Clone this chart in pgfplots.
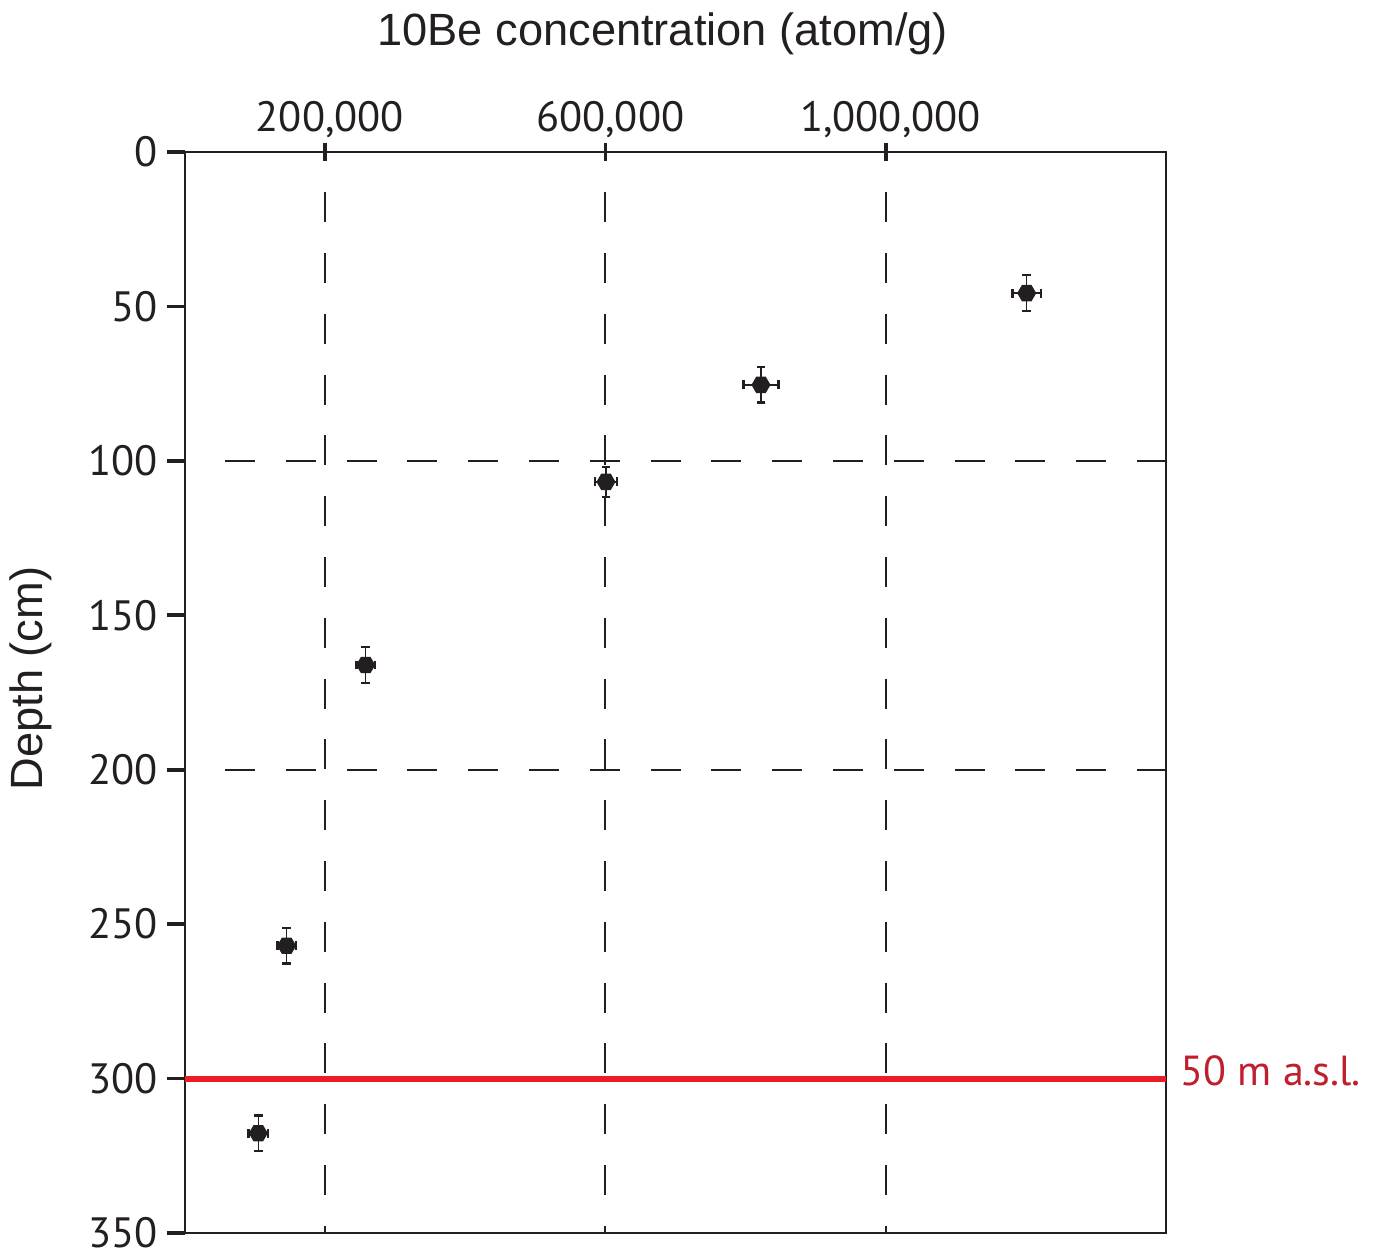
\documentclass[border=0pt]{standalone}
\usepackage{fontspec}
\setmainfont{PT Sans}
\newfontfamily\arialf{Liberation Sans}
\usepackage{pgfplots}
\pgfplotsset{compat=1.18}
\definecolor{ink}{RGB}{35,31,32}
\definecolor{redline}{RGB}{237,28,36}
\definecolor{redtext}{RGB}{190,30,45}

% hexagon with points to left and right
\pgfdeclareplotmark{hexagon*}{%
  \pgfpathmoveto{\pgfpointpolar{0}{\pgfplotmarksize}}%
  \pgfpathlineto{\pgfpointpolar{60}{\pgfplotmarksize}}%
  \pgfpathlineto{\pgfpointpolar{120}{\pgfplotmarksize}}%
  \pgfpathlineto{\pgfpointpolar{180}{\pgfplotmarksize}}%
  \pgfpathlineto{\pgfpointpolar{240}{\pgfplotmarksize}}%
  \pgfpathlineto{\pgfpointpolar{300}{\pgfplotmarksize}}%
  \pgfpathclose
  \pgfusepathqfillstroke}

\begin{document}
\begin{tikzpicture}
\begin{axis}[
  name=ax,
  width=245.25pt, height=270.25pt, scale only axis,
  xmin=0, xmax=1400000, ymin=0, ymax=350,
  y dir=reverse,
  clip=false,
  axis line style={ink, line width=0.6pt},
  xtick={200000,600000,1000000},
  xticklabels={{200,000},{600,000},{1,000,000}},
  xtick pos=right, xticklabel pos=right,
  ytick={0,50,...,350}, ytick pos=left,
  tick align=outside, major tick length=4.5pt,
  tick style={ink, line width=0.9pt},
  every major x tick/.append style={yshift=-2.25pt},
  /pgf/number format/assume math mode=true,
  tick label style={font=\fontsize{10.6}{12}\selectfont, text=ink},
  xticklabel style={yshift=-4.6pt, xshift=1.2pt},
  yticklabel style={xshift=1.25pt},
  scaled x ticks=false,
]
% grid lines
\addplot[ink, line width=0.5pt, dash pattern=on 7.5pt off 7.7pt] coordinates {(200000,13) (200000,350)};
\addplot[ink, line width=0.5pt, dash pattern=on 7.5pt off 7.7pt] coordinates {(600000,13) (600000,350)};
\addplot[ink, line width=0.5pt, dash pattern=on 7.5pt off 7.7pt] coordinates {(1000000,13) (1000000,350)};
\addplot[ink, line width=0.5pt, dash pattern=on 7.5pt off 7.7pt] coordinates {(57000,100) (1400000,100)};
\addplot[ink, line width=0.5pt, dash pattern=on 7.5pt off 7.7pt] coordinates {(57000,200) (1400000,200)};

% sea level line
\addplot[redline, line width=1.5pt] coordinates {(0,300) (1400000,300)};

% samples
\addplot[only marks, mark=hexagon*, mark size=2.2pt, ink,
  mark options={fill=ink, line width=0.3pt},
  error bars/.cd, x dir=both, x explicit, y dir=both, y explicit,
  error bar style={line width=0.35pt, ink},
  error mark options={rotate=90, mark size=1.1pt, line width=0.6pt, ink}]
  coordinates {
    (1201200,45.7) +- (20000,5.8)
    (822000,75.4)  +- (25000,5.7)
    (600800,106.8) +- (15500,4.9)
    (257900,166.1) +- (13000,5.8)
    (145100,257.0) +- (13000,5.8)
    (104600,317.7) +- (14000,5.8)
  };

\node[font=\arialf\fontsize{11.3}{13}\selectfont, text=ink, anchor=base, yshift=26.5pt]
  at (axis description cs:0.487,1) {10Be concentration (atom/g)};
\node[font=\arialf\fontsize{11.3}{13}\selectfont, text=ink, anchor=base, rotate=90]
  at (axis description cs:-0.1448,0.513) {Depth (cm)};
\node[font=\fontsize{10.5}{12}\selectfont, text=redtext, anchor=base west, inner sep=0pt, xshift=3.5pt]
  at (axis description cs:1,0.136) {50 m a.s.l.};
\end{axis}
\pgfresetboundingbox
\path[use as bounding box] ([shift={(-46.25pt,-6.5pt)}]ax.south west) rectangle ([shift={(53.75pt,38pt)}]ax.north east);
\end{tikzpicture}
\end{document}
